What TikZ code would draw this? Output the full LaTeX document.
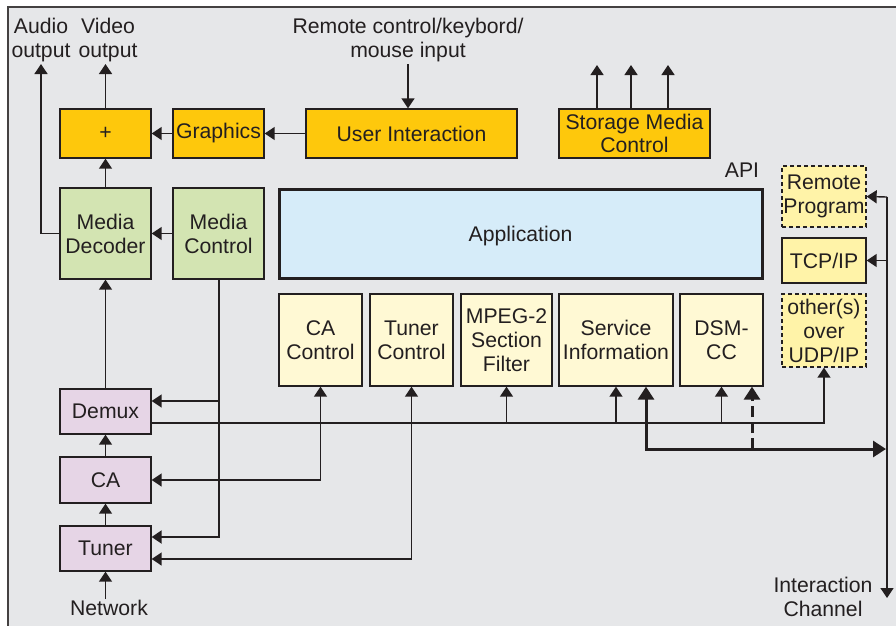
\documentclass[tikz,border=0pt]{standalone}
\usepackage{fontspec}
\setmainfont{Liberation Sans}
\usetikzlibrary{arrows.meta}

\definecolor{frame}{HTML}{E6E7E9}
\definecolor{ink}{HTML}{231F20}
\definecolor{orangebox}{HTML}{FEC80C}
\definecolor{greenbox}{HTML}{D3E4B2}
\definecolor{bluebox}{HTML}{D6ECF9}
\definecolor{paleyellow}{HTML}{FFF9D4}
\definecolor{netyellow}{HTML}{FFF3A8}
\definecolor{pinkbox}{HTML}{E6D5E6}

\tikzset{
  box/.style={draw=ink, line width=1.3pt, align=center, inner sep=1pt, text=ink},
  sw/.style={box, fill=orangebox},
  media/.style={box, fill=greenbox},
  appbox/.style={box, fill=bluebox, line width=3pt},
  apibox/.style={box, fill=paleyellow},
  netbox/.style={box, fill=netyellow},
  dashbox/.style={netbox, dashed, dash pattern=on 4pt off 3pt},
  frontend/.style={box, fill=pinkbox},
  label/.style={align=center, text=ink, inner sep=0pt},
  conn/.style={draw=ink, line width=1.4pt},
  tip/.tip={Triangle[length=10pt,width=13pt]},
  bigtip/.tip={Triangle[length=13pt,width=16pt]},
  arr/.style={conn, -tip},
  darr/.style={conn, tip-tip},
  heavy/.style={draw=ink, line width=3pt},
}

\begin{document}
\begin{tikzpicture}[x=1pt, y=-1pt, font=\fontsize{21.2}{24}\selectfont]
\useasboundingbox (0,0) rectangle (896,625);
\clip (0,0) rectangle (896,625);
\fill[white] (0,0) rectangle (896,625);
\draw[draw=ink!85, fill=frame, line width=2pt] (8,7) rectangle (910,640);

% --- output / user-interface row ---
\node[sw, minimum width=91pt, minimum height=49pt] (plus) at (105.5,133.5) {+};
\node[sw, minimum width=91pt, minimum height=49pt] (graphics) at (218.5,133.5) {Graphics};
\node[sw, minimum width=211pt, minimum height=49pt] (userint) at (411.5,133.5) {User Interaction};
\node[sw, minimum width=151pt, minimum height=49pt, font=\fontsize{21.2}{23.5}\selectfont] (storage) at (634.5,133.5) {Storage Media\\Control};

% --- media row and application ---
\node[media, minimum width=91pt, minimum height=91pt] (mdec) at (105.5,233.5) {Media\\Decoder};
\node[media, minimum width=91pt, minimum height=91pt] (mctrl) at (218.5,233.5) {Media\\Control};
\node[appbox, minimum width=483pt, minimum height=89pt, text height=15pt, text depth=-1pt] (app) at (520.5,233.5) {Application};
\node[label] (api) at (742,170) {API};

% --- network side ---
\node[dashbox, minimum width=84pt, minimum height=61pt] (remote) at (824,196.5) {Remote\\Program};
\node[netbox, minimum width=84pt, minimum height=45pt] (tcp) at (824,260.5) {TCP/IP};
\node[dashbox, minimum width=84pt, minimum height=73pt] (udp) at (824,330.5) {other(s)\\over\\UDP/IP};

% --- API service blocks ---
\node[apibox, minimum width=83pt, minimum height=92pt] (cactl) at (320.5,340) {CA\\Control};
\node[apibox, minimum width=83pt, minimum height=92pt] (tunctl) at (411.5,340) {Tuner\\Control};
\node[apibox, minimum width=91pt, minimum height=92pt] (mpeg) at (506.5,340) {MPEG-2\\Section\\Filter};
\node[apibox, minimum width=114pt, minimum height=92pt] (si) at (616,340) {Service\\Information};
\node[apibox, minimum width=83pt, minimum height=92pt] (dsmcc) at (721.5,340) {DSM-\\CC};

% --- front end chain ---
\node[frontend, minimum width=91pt, minimum height=45pt] (demux) at (105.5,411.5) {Demux};
\node[frontend, minimum width=91pt, minimum height=46pt] (ca) at (105.5,480) {CA};
\node[frontend, minimum width=91pt, minimum height=45pt] (tuner) at (105.5,548.5) {Tuner};

% --- free labels ---
\node[label] (audio) at (41,40) {Audio\\output};
\node[label] (video) at (108,40) {Video\\output};
\node[label] (rcin) at (408,40.5) {Remote control/keybord/\\mouse input};
\node[label] (network) at (109,608) {Network};
\node[label] (ichan) at (823,597) {Interaction\\Channel};

% free connector ends
\coordinate (aout) at (41,64);
\coordinate (vout) at (105.5,64);
\coordinate (rcsrc) at (408,64);
\coordinate (st1) at (597,65);
\coordinate (st2) at (631,65);
\coordinate (st3) at (668,65);
\coordinate (netin) at (105.5,599);
\coordinate (ictop) at (887,197);
\coordinate (icbot) at (887,598);
\coordinate (bus) at (824,423);
\coordinate (heavyend) at (887,449);
\coordinate (dashfoot) at (752,449);

% --- outputs ---
\draw[arr] (mdec.west) -| (aout);
\draw[arr] (plus.north) -- (vout);
\draw[arr] (mdec.north) -- (plus.south);
\draw[arr] (graphics.west) -- (plus.east);
\draw[arr] (userint.west) -- (graphics.east);
\draw[arr] (rcsrc) -- (rcsrc |- userint.north);
\draw[arr] (st1 |- storage.north) -- (st1);
\draw[arr] (st2 |- storage.north) -- (st2);
\draw[arr] (st3 |- storage.north) -- (st3);

% --- media path ---
\draw[arr] (mctrl.west) -- (mdec.east);
\draw[arr] (demux.north) -- (mdec.south);
\draw[arr] (ca.north) -- (demux.south);
\draw[arr] (tuner.north) -- (ca.south);
\draw[arr] (netin) -- (tuner.south);

% media control to demux and tuner
\coordinate (dmA) at ([yshift=10.5pt]demux.east);
\coordinate (tuA) at ([yshift=11.5pt]tuner.east);
\draw[conn, line width=2pt, -tip] (mctrl.south) |- (tuA);
\draw[arr] (mctrl.south |- dmA) -- (dmA);

% demux section bus
\coordinate (dmB) at ([yshift=-11.5pt]demux.east);
\draw[arr] (dmB) -- (bus) -- (udp.south);
\draw[arr] (mpeg.south |- bus) -- (mpeg.south);
\draw[arr] (si.south |- bus) -- (si.south);
\draw[arr] (dsmcc.south |- bus) -- (dsmcc.south);

% control links
\draw[darr] (cactl.south) |- (ca.east);
\coordinate (tuB) at ([yshift=-10.5pt]tuner.east);
\draw[darr] (tunctl.south) |- (tuB);

% interaction channel
\draw[arr] (ictop) -- (icbot);
\draw[arr] (ictop) -- (remote.east);
\draw[arr] (ictop |- tcp.east) -- (tcp.east);
\coordinate (siB) at ([xshift=30pt]si.south);
\draw[heavy, bigtip-bigtip] (siB) |- ([xshift=-1pt]heavyend);
\coordinate (dsB) at ([xshift=30.5pt]dsmcc.south);
\draw[heavy, dash pattern=on 11pt off 5pt, -bigtip] (dashfoot) -- (dsB);
\end{tikzpicture}
\end{document}
